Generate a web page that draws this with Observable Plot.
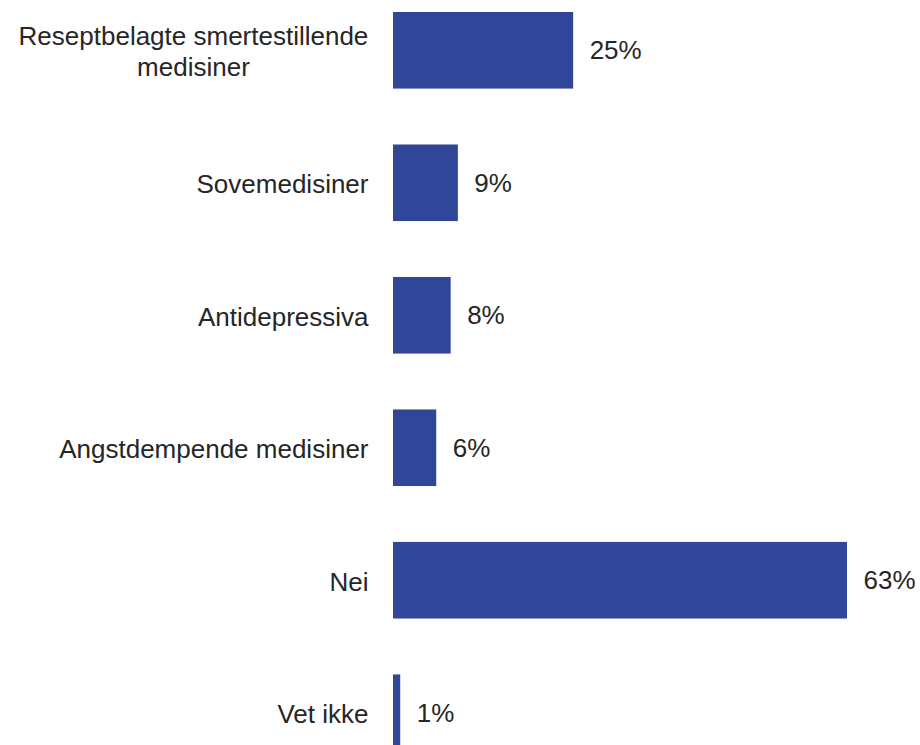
<!DOCTYPE html>
<html>
<head>
<meta charset="utf-8">
<script src="https://cdn.jsdelivr.net/npm/d3@7"></script>
<script src="https://cdn.jsdelivr.net/npm/@observablehq/plot@0.6"></script>
<style>
  html, body { margin: 0; padding: 0; background: #fff; overflow: hidden; }
  #chart svg { display: block; }
</style>
</head>
<body>
<div id="chart"></div>
<script>
const categories = [
  "Reseptbelagte smertestillende\nmedisiner",
  "Sovemedisiner",
  "Antidepressiva",
  "Angstdempende medisiner",
  "Nei",
  "Vet ikke"
];
const values = [25, 9, 8, 6, 63, 1];
const valueLabels = ["25%", "9%", "8%", "6%", "63%", "1%"];

const data = categories.map((c, i) => ({category: c, value: values[i], label: valueLabels[i]}));

const barColor = "#2f4699";
const textColor = "#262626";

const chart = Plot.plot({
  width: 920,
  height: 751,
  marginTop: 12,
  marginBottom: 0,
  marginLeft: 393,
  marginRight: 73,
  style: {fontFamily: "'Liberation Sans', Arial, sans-serif", fontSize: "26px", color: textColor, background: "#fff"},
  x: {domain: [0, 63], axis: null},
  y: {domain: categories, paddingInner: 0.422, paddingOuter: 0, round: false, label: null},
  marks: [
    Plot.barX(data, {x: "value", y: "category", fill: barColor}),
    Plot.text(data, {x: "value", y: "category", text: "label", textAnchor: "start", dx: 16, fill: textColor, fontSize: 26}),
    Plot.axisY({tickSize: 0, tickPadding: 25, fontSize: 26, fill: textColor, lineHeight: 1.2, label: null})
  ]
});
document.getElementById("chart").appendChild(chart);

// Center the lines of multi-line category labels (right edge of widest line stays put)
chart.querySelectorAll("g[aria-label='y-axis tick label'] text").forEach(t => {
  const spans = t.querySelectorAll("tspan");
  if (spans.length > 1) {
    const w = t.getBBox().width;
    t.setAttribute("text-anchor", "middle");
    spans.forEach(s => s.setAttribute("x", -w / 2));
  }
});
</script>
</body>
</html>
